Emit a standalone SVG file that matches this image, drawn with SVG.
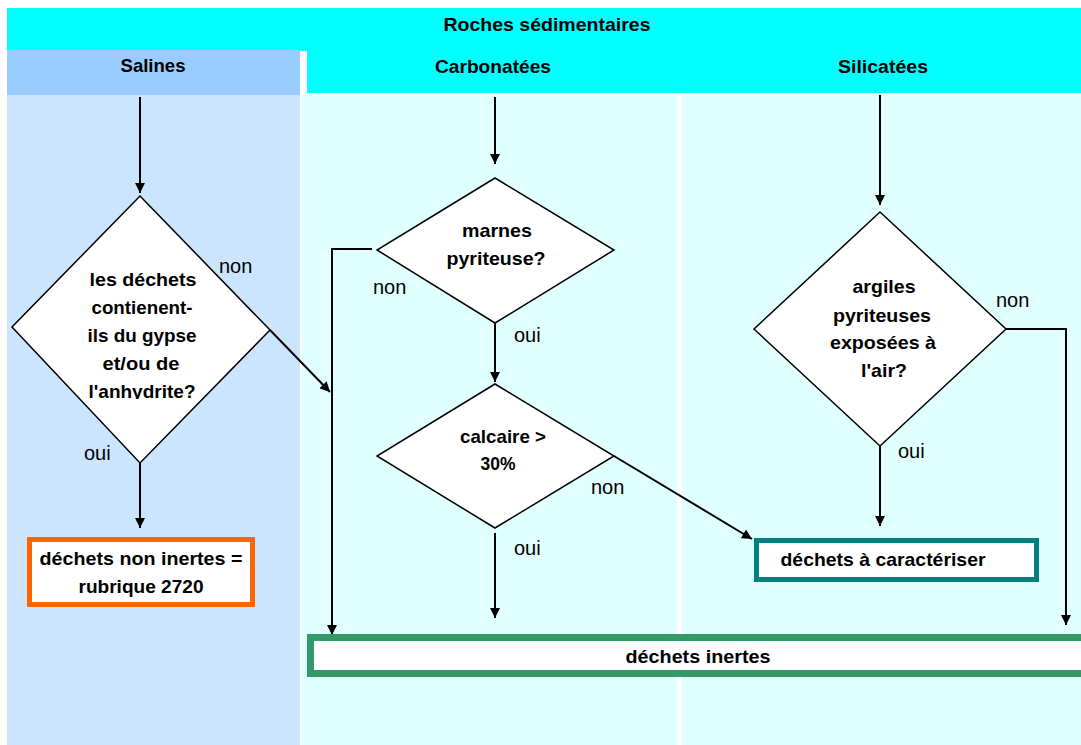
<svg xmlns="http://www.w3.org/2000/svg" width="1081" height="745" viewBox="0 0 1081 745">
<style>
.t{font-family:"Liberation Sans",Arial,sans-serif;font-weight:bold;font-size:19px;text-anchor:middle;fill:#000}
.l{font-family:"Liberation Sans",Arial,sans-serif;font-size:20px;fill:#000}
.d{fill:#fff;stroke:#000;stroke-width:1.5}
.c{fill:none;stroke:#000;stroke-width:2}
</style>
<defs>
<marker id="a" viewBox="0 0 10 10" refX="10" refY="5" markerWidth="5" markerHeight="5" markerUnits="strokeWidth" orient="auto">
<path d="M0,0 L10,5 L0,10 z" fill="#000"/>
</marker>
<clipPath id="cs"><rect x="7" y="95" width="293" height="304"/></clipPath>
</defs>
<g id="background">
<rect x="0" y="0" width="1081" height="745" fill="#fff"/>
<rect x="7" y="95" width="293" height="650" fill="#CCE5FF"/>
<rect x="302" y="95" width="375" height="650" fill="#E0FFFF"/>
<rect x="682" y="95" width="399" height="650" fill="#E0FFFF"/>
<rect x="7" y="8" width="1074" height="43" fill="#00FFFF"/>
<rect x="307" y="50" width="774" height="43" fill="#00FFFF"/>
<rect x="7" y="50" width="293" height="45" fill="#99CCFF"/>
</g>
<g id="headers">
<text class="t" x="547" y="31" textLength="207" lengthAdjust="spacingAndGlyphs">Roches sédimentaires</text>
<text class="t" x="153" y="72" textLength="65" lengthAdjust="spacingAndGlyphs">Salines</text>
<text class="t" x="493" y="73" textLength="116" lengthAdjust="spacingAndGlyphs">Carbonatées</text>
<text class="t" x="883" y="73" textLength="90" lengthAdjust="spacingAndGlyphs">Silicatées</text>
</g>
<g id="connectors">
<line class="c" x1="140" y1="97" x2="140" y2="193" marker-end="url(#a)"/>
<line class="c" x1="140" y1="463" x2="140" y2="528" marker-end="url(#a)"/>
<line class="c" x1="270" y1="330" x2="330" y2="392" marker-end="url(#a)"/>
<polyline class="c" points="372,249 332,249 332,635" marker-end="url(#a)"/>
<line class="c" x1="495" y1="97" x2="495" y2="164" marker-end="url(#a)"/>
<line class="c" x1="495" y1="323" x2="495" y2="382" marker-end="url(#a)"/>
<line class="c" x1="495" y1="533" x2="495" y2="618" marker-end="url(#a)"/>
<line class="c" x1="614" y1="456" x2="752" y2="539" marker-end="url(#a)"/>
<line class="c" x1="880" y1="95" x2="880" y2="205" marker-end="url(#a)"/>
<line class="c" x1="880" y1="446" x2="880" y2="526" marker-end="url(#a)"/>
<polyline class="c" points="1006,329 1066,329 1066,625" marker-end="url(#a)"/>
</g>
<g id="n-gypse">
<polygon class="d" points="140,196 270,330 140,463 12,327"/>
<g clip-path="url(#cs)">
<text class="t" x="143" y="286" textLength="107" lengthAdjust="spacingAndGlyphs">les déchets</text>
<text class="t" x="142" y="314" textLength="101" lengthAdjust="spacingAndGlyphs">contienent-</text>
<text class="t" x="142" y="342" textLength="109" lengthAdjust="spacingAndGlyphs">ils du gypse</text>
<text class="t" x="141" y="370" textLength="77" lengthAdjust="spacingAndGlyphs">et/ou de</text>
<text class="t" x="142" y="398" textLength="107" lengthAdjust="spacingAndGlyphs">l'anhydrite?</text>
</g>
<text class="l" x="219" y="273">non</text>
<text class="l" x="84" y="460">oui</text>
</g>
<g id="n-nonInertes">
<rect x="29.5" y="539.5" width="223" height="65" fill="#fff" stroke="#FF6600" stroke-width="5"/>
<text class="t" x="141" y="565" textLength="203" lengthAdjust="spacingAndGlyphs">déchets non inertes =</text>
<text class="t" x="141" y="593" textLength="125" lengthAdjust="spacingAndGlyphs">rubrique 2720</text>
</g>
<g id="n-marnes">
<polygon class="d" points="495,178 614,250 495,323 377,250"/>
<text class="t" x="497" y="237" textLength="70" lengthAdjust="spacingAndGlyphs">marnes</text>
<text class="t" x="496" y="265" textLength="99" lengthAdjust="spacingAndGlyphs">pyriteuse?</text>
<text class="l" x="373" y="294">non</text>
<text class="l" x="514" y="342">oui</text>
</g>
<g id="n-calcaire">
<polygon class="d" points="495,384 614,456 495,528 377,456"/>
<text class="t" x="503" y="443" textLength="86" lengthAdjust="spacingAndGlyphs">calcaire &gt;</text>
<text class="t" x="498" y="470" textLength="35" lengthAdjust="spacingAndGlyphs">30%</text>
<text class="l" x="591" y="494">non</text>
<text class="l" x="514" y="555">oui</text>
</g>
<g id="n-argiles">
<polygon class="d" points="880,212 1006,329 880,446 754,329"/>
<text class="t" x="884" y="293" textLength="63" lengthAdjust="spacingAndGlyphs">argiles</text>
<text class="t" x="882" y="322" textLength="98" lengthAdjust="spacingAndGlyphs">pyriteuses</text>
<text class="t" x="883" y="349" textLength="106" lengthAdjust="spacingAndGlyphs">exposées à</text>
<text class="t" x="884" y="377" textLength="46" lengthAdjust="spacingAndGlyphs">l'air?</text>
<text class="l" x="996" y="307">non</text>
<text class="l" x="898" y="458">oui</text>
</g>
<g id="n-caracteriser">
<rect x="756.5" y="540.5" width="280" height="39" fill="#fff" stroke="#008080" stroke-width="5"/>
<text class="t" x="883" y="566" textLength="205" lengthAdjust="spacingAndGlyphs">déchets à caractériser</text>
</g>
<g id="n-inertes">
<rect x="310.5" y="637.5" width="780" height="36" fill="#fff" stroke="#339966" stroke-width="7"/>
<text class="t" x="698" y="663" textLength="145" lengthAdjust="spacingAndGlyphs">déchets inertes</text>
</g>
</svg>
